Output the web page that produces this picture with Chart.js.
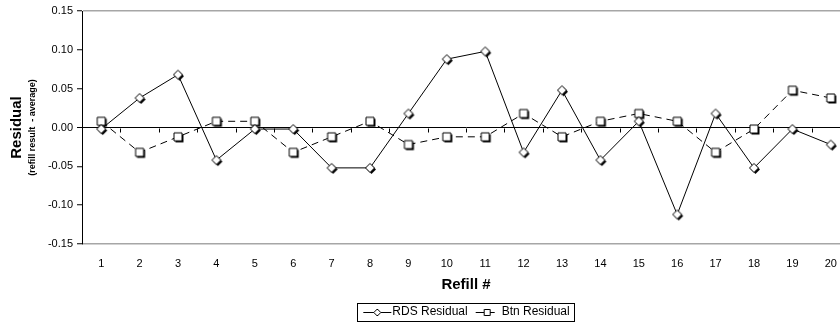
<!DOCTYPE html>
<html>
<head>
<meta charset="utf-8">
<script src="https://cdn.jsdelivr.net/npm/chart.js@4.4.0/dist/chart.umd.min.js"></script>
<style>
  html, body { margin: 0; padding: 0; background: #fff; overflow: hidden; }
  canvas { display: block; }
</style>
</head>
<body>
<canvas id="chart" width="860" height="324"></canvas>
<script>
// refill numbers on the x axis
const refills = ["1", "2", "3", "4", "5", "6", "7", "8", "9", "10",
                 "11", "12", "13", "14", "15", "16", "17", "18", "19", "20"];

// residuals (refill result - average)
const rdsResidual = [-0.002, 0.038, 0.068, -0.042, -0.002, -0.002, -0.052, -0.052, 0.018, 0.088,
                     0.098, -0.032, 0.048, -0.042, 0.008, -0.112, 0.018, -0.052, -0.002, -0.022];
const btnResidual = [0.008, -0.032, -0.012, 0.008, 0.008, -0.032, -0.012, 0.008, -0.022, -0.012,
                     -0.012, 0.018, -0.012, 0.008, 0.018, 0.008, -0.032, -0.002, 0.048, 0.038];

const seriesNames = ["RDS Residual", "Btn Residual"];
const yTitle = "Residual";
const ySubtitle = "(refill result  - average)";
const xTitle = "Refill #";

const FONT = '"Liberation Sans", Arial, sans-serif';
Chart.defaults.font.family = FONT;
Chart.defaults.color = "#000";

function shapePath(g, shape, cx, cy, r) {
    g.beginPath();
    if (shape === "diamond") {
        g.moveTo(cx, cy - r);
        g.lineTo(cx + r, cy);
        g.lineTo(cx, cy + r);
        g.lineTo(cx - r, cy);
        g.closePath();
    } else {
        g.rect(cx - r, cy - r, r * 2, r * 2);
    }
}

// marker with the little black drop shadow
function makeMarker(shape, r) {
    const c = document.createElement("canvas");
    c.width = 16;
    c.height = 16;
    const g = c.getContext("2d");
    g.fillStyle = "#000";
    shapePath(g, shape, 8 + 1.5, 8 + 1.5, r);
    g.fill();
    shapePath(g, shape, 8, 8, r);
    g.fillStyle = "#fff";
    g.fill();
    g.lineWidth = 1;
    g.strokeStyle = "#000";
    g.stroke();
    return c;
}

// legend sample: line with marker in the middle
function makeLegendSample(shape) {
    const c = document.createElement("canvas");
    c.width = 44;
    c.height = 14;
    const g = c.getContext("2d");
    g.strokeStyle = "#000";
    g.lineWidth = 1;
    g.beginPath();
    if (shape === "diamond") {
        g.moveTo(11, 7.5);
        g.lineTo(39, 7.5);
    } else {
        g.moveTo(14, 7.5);
        g.lineTo(22, 7.5);
        g.moveTo(29, 7.5);
        g.lineTo(33, 7.5);
    }
    g.stroke();
    const cx = shape === "diamond" ? 25 : 25.5;
    shapePath(g, shape, cx, 7.5, shape === "diamond" ? 3.5 : 3);
    g.fillStyle = "#fff";
    g.fill();
    g.stroke();
    return c;
}

const rdsMarker = makeMarker("diamond", 4.5);
const btnMarker = makeMarker("square", 4);
const rdsSample = makeLegendSample("diamond");
const btnSample = makeLegendSample("square");

// y axis title in two sizes
const yTitlePlugin = {
    id: "yTitle",
    afterDraw(chart) {
        const { ctx, chartArea } = chart;
        const midY = (chartArea.top + chartArea.bottom) / 2;
        ctx.save();
        ctx.fillStyle = "#000";
        ctx.textAlign = "center";
        ctx.textBaseline = "middle";
        ctx.translate(17, midY);
        ctx.rotate(-Math.PI / 2);
        ctx.font = "bold 15px " + FONT;
        ctx.fillText(yTitle, 0, 0);
        ctx.font = "bold 9px " + FONT;
        ctx.fillText(ySubtitle, 0, 16);
        ctx.restore();
    }
};

// tick marks hanging under the zero line, at category boundaries
const zeroTicksPlugin = {
    id: "zeroTicks",
    beforeDatasetsDraw(chart) {
        const { ctx, scales } = chart;
        const y0 = Math.round(scales.y.getPixelForValue(0)) + 0.5;
        ctx.save();
        ctx.strokeStyle = "#000";
        ctx.lineWidth = 1;
        ctx.beginPath();
        for (let i = 1; i <= refills.length; i++) {
            const x = Math.round(scales.x.getPixelForValue(i - 0.5)) + 0.5;
            ctx.moveTo(x, y0);
            ctx.lineTo(x, y0 + 4);
        }
        ctx.stroke();
        ctx.restore();
    }
};

// frame around the legend
const legendBoxPlugin = {
    id: "legendBox",
    afterDraw(chart) {
        const boxes = chart.legend.legendHitBoxes;
        if (!boxes || !boxes.length) return;
        const first = boxes[0];
        const last = boxes[boxes.length - 1];
        const left = Math.round(first.left - 5) + 0.5;
        const right = Math.round(last.left + last.width + 4) + 0.5;
        const mid = first.top + first.height / 2;
        const top = Math.round(mid - 9) + 0.5;
        const ctx = chart.ctx;
        ctx.save();
        ctx.strokeStyle = "#000";
        ctx.lineWidth = 1;
        ctx.strokeRect(left, top, right - left, 18);
        ctx.restore();
    }
};

new Chart(document.getElementById("chart"), {
    type: "line",
    data: {
        labels: refills,
        datasets: [
            {
                label: seriesNames[0],
                data: rdsResidual,
                borderColor: "#000",
                borderWidth: 1,
                pointStyle: rdsMarker,
                pointRadius: 4,
                tension: 0,
                fill: false
            },
            {
                label: seriesNames[1],
                data: btnResidual,
                borderColor: "#000",
                borderWidth: 1,
                borderDash: [7, 5],
                pointStyle: btnMarker,
                pointRadius: 4,
                tension: 0,
                fill: false
            }
        ]
    },
    options: {
        responsive: false,
        devicePixelRatio: 1,
        animation: false,
        events: [],
        layout: { padding: { top: 11, right: 10, left: 0, bottom: -4 } },
        scales: {
            x: {
                offset: true,
                grid: { display: false },
                border: { display: false },
                ticks: { font: { size: 11 }, padding: 5, maxRotation: 0, autoSkip: false },
                title: { display: true, text: xTitle, font: { size: 15, weight: "bold" }, padding: { top: 0, bottom: 8 } },
                afterFit(scale) { scale.height = 58; }
            },
            y: {
                min: -0.15,
                max: 0.15,
                ticks: {
                    stepSize: 0.05,
                    font: { size: 11 },
                    padding: 4,
                    callback: v => (Math.abs(v) < 1e-9 ? 0 : v).toFixed(2)
                },
                grid: {
                    drawTicks: true,
                    tickLength: 5,
                    tickColor: "#000",
                    tickWidth: 1,
                    color: c => {
                        const v = c.tick.value;
                        if (Math.abs(v) < 1e-9) return "#000";
                        if (Math.abs(Math.abs(v) - 0.15) < 1e-9) return "#a6a6a6";
                        return "rgba(0,0,0,0)";
                    },
                    lineWidth: c => (Math.abs(c.tick.value) < 1e-9 ? 1 : 1.5)
                },
                border: { display: true, color: "#000", width: 1 },
                afterFit(scale) { scale.width = 82; }
            }
        },
        plugins: {
            tooltip: { enabled: false },
            legend: {
                position: "bottom",
                fullSize: false,
                labels: {
                    usePointStyle: true,
                    pointStyleWidth: 24,
                    padding: 4,
                    font: { size: 12 },
                    color: "#000",
                    generateLabels: () => [
                        { text: seriesNames[0], pointStyle: rdsSample, datasetIndex: 0, hidden: false, lineWidth: 0 },
                        { text: seriesNames[1], pointStyle: btnSample, datasetIndex: 1, hidden: false, lineWidth: 0 }
                    ]
                }
            }
        }
    },
    plugins: [yTitlePlugin, zeroTicksPlugin, legendBoxPlugin]
});
</script>
</body>
</html>
